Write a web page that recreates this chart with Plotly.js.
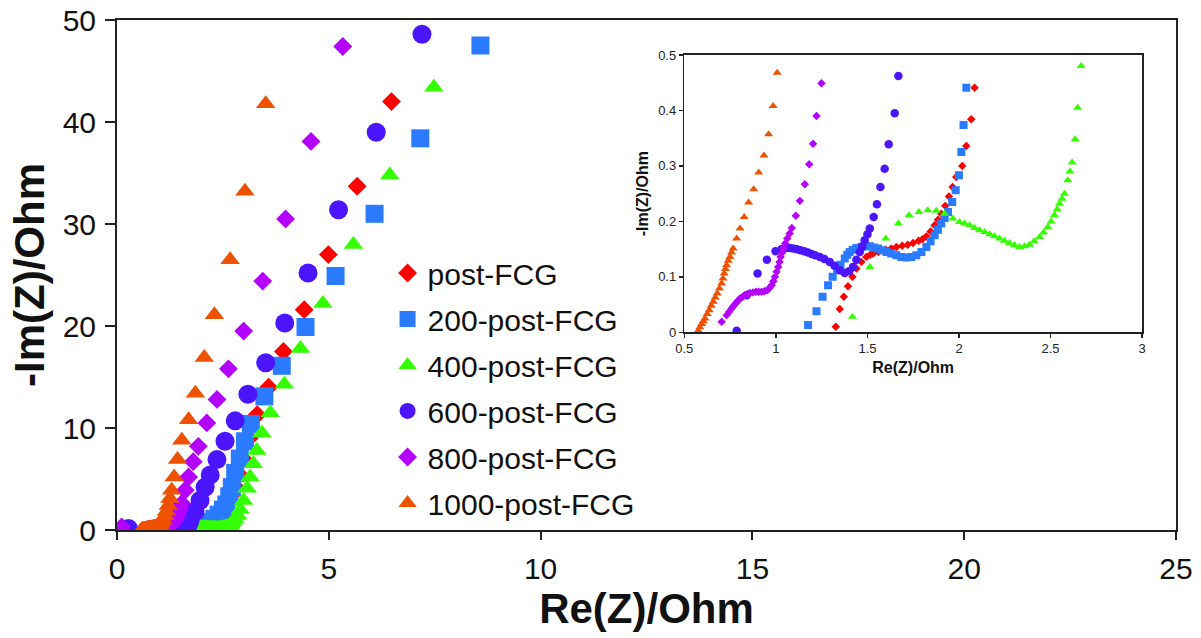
<!DOCTYPE html>
<html>
<head>
<meta charset="utf-8">
<script src="https://cdn.plot.ly/plotly-3.0.1.min.js"></script>
<style>html,body{margin:0;padding:0;background:#fff;}#chart{width:1201px;height:638px;}</style>
</head>
<body>
<div id="chart"></div>
<script>
const seriesNames = ['post-FCG','200-post-FCG','400-post-FCG','600-post-FCG','800-post-FCG','1000-post-FCG'];

const postFCG_x = [1.327,1.349,1.371,1.394,1.418,1.44,1.467,1.494,1.515,1.531,1.56,1.6,1.63,1.658,1.69,1.72,1.749,1.78,1.80,1.822,1.845,1.867,1.885,1.903,1.925,1.945,1.965,1.985,2.018,2.040,2.067,2.085,2.16,2.24,2.33,2.43,2.53,2.62,2.70,2.78,2.87,2.97,3.12,3.31,3.58,3.93,4.42,4.99,5.67,6.48];
const postFCG_y = [0.010,0.042,0.064,0.083,0.100,0.115,0.127,0.136,0.140,0.142,0.145,0.149,0.151,0.154,0.156,0.158,0.161,0.165,0.168,0.173,0.182,0.193,0.203,0.214,0.228,0.245,0.262,0.280,0.300,0.336,0.384,0.441,0.6,0.8,1.1,1.5,2.0,2.6,3.4,4.3,5.5,7.0,9.0,11.3,14.0,17.5,21.6,27.0,33.7,42.0];

const s200_x = [1.176,1.222,1.255,1.285,1.31,1.335,1.353,1.376,1.39,1.403,1.42,1.44,1.467,1.49,1.513,1.535,1.558,1.58,1.604,1.63,1.658,1.685,1.713,1.74,1.767,1.795,1.822,1.845,1.867,1.885,1.903,1.922,1.940,1.963,1.982,2.0,2.013,2.025,2.04,2.12,2.2,2.3,2.4,2.5,2.58,2.65,2.71,2.79,2.9,3.02,3.16,3.48,3.89,4.45,5.16,6.08,7.16,8.58];
const s200_y = [0.013,0.038,0.064,0.085,0.100,0.112,0.122,0.133,0.140,0.145,0.149,0.152,0.154,0.155,0.155,0.153,0.151,0.148,0.145,0.142,0.139,0.136,0.135,0.136,0.139,0.145,0.154,0.164,0.175,0.185,0.196,0.206,0.217,0.235,0.256,0.283,0.325,0.374,0.441,0.6,0.8,1.1,1.5,2.0,2.5,3.3,4.2,5.6,7.0,8.7,10.4,13.1,16.1,19.9,24.9,31.0,38.4,47.5];

const s400_x = [1.418,1.513,1.6,1.669,1.727,1.781,1.830,1.876,1.921,1.967,2.003,2.03,2.058,2.085,2.112,2.14,2.167,2.194,2.221,2.248,2.276,2.303,2.331,2.358,2.385,2.41,2.44,2.462,2.485,2.503,2.521,2.536,2.549,2.563,2.576,2.594,2.606,2.618,2.634,2.648,2.667,2.70,2.74,2.79,2.85,2.91,2.99,3.07,3.14,3.22,3.30,3.42,3.62,3.95,4.33,4.86,5.58,6.44,7.48];
const s400_y = [0.028,0.118,0.169,0.196,0.211,0.217,0.220,0.219,0.214,0.205,0.199,0.196,0.193,0.188,0.184,0.181,0.177,0.173,0.169,0.165,0.161,0.157,0.154,0.155,0.158,0.164,0.172,0.180,0.190,0.200,0.211,0.222,0.232,0.241,0.250,0.274,0.290,0.306,0.348,0.405,0.480,0.6,0.8,1.05,1.45,2.0,2.9,4.1,5.2,6.5,7.8,9.5,11.5,14.3,17.8,22.2,28.0,34.8,43.4];

const s600_x = [0.27,0.786,0.84,0.90,0.951,0.998,1.03,1.055,1.076,1.095,1.115,1.135,1.155,1.175,1.195,1.215,1.24,1.265,1.294,1.32,1.349,1.376,1.40,1.421,1.44,1.458,1.472,1.485,1.50,1.513,1.534,1.552,1.571,1.594,1.616,1.649,1.669,1.69,1.71,1.73,1.84,1.96,2.08,2.20,2.36,2.55,2.79,3.09,3.51,3.96,4.51,5.23,6.12,7.20];
const s600_y = [0.15,0.003,0.067,0.106,0.131,0.146,0.150,0.152,0.152,0.151,0.150,0.148,0.146,0.144,0.141,0.139,0.136,0.132,0.127,0.120,0.112,0.107,0.110,0.118,0.131,0.145,0.155,0.166,0.177,0.187,0.208,0.231,0.262,0.295,0.339,0.395,0.462,0.6,0.78,1.0,1.8,2.9,4.2,5.4,6.9,8.7,10.7,13.3,16.4,20.3,25.2,31.4,39.0,48.6];

const s800_x = [0.11,0.704,0.731,0.745,0.758,0.77,0.782,0.793,0.804,0.818,0.831,0.845,0.858,0.875,0.891,0.906,0.922,0.938,0.953,0.965,0.977,0.986,0.995,1.004,1.013,1.02,1.026,1.033,1.040,1.051,1.062,1.075,1.087,1.109,1.131,1.158,1.182,1.203,1.222,1.249,1.28,1.31,1.35,1.39,1.44,1.48,1.53,1.61,1.69,1.80,1.92,2.12,2.36,2.63,2.99,3.44,3.98,4.58,5.33];
const s800_y = [0.3,0.019,0.031,0.037,0.043,0.048,0.053,0.057,0.061,0.064,0.067,0.069,0.071,0.072,0.073,0.073,0.073,0.074,0.076,0.080,0.085,0.092,0.100,0.109,0.118,0.127,0.136,0.143,0.151,0.160,0.169,0.178,0.188,0.210,0.237,0.267,0.303,0.340,0.390,0.449,0.56,0.7,0.9,1.2,1.55,2.0,2.6,3.9,5.2,6.7,8.2,10.5,12.8,15.8,19.5,24.4,30.5,38.1,47.4];

const s1000_x = [0.576,0.585,0.595,0.604,0.613,0.625,0.636,0.647,0.658,0.669,0.68,0.692,0.704,0.711,0.718,0.725,0.731,0.74,0.749,0.758,0.767,0.786,0.804,0.827,0.851,0.879,0.906,0.935,0.96,0.985,1.007,1.03,1.06,1.09,1.13,1.17,1.21,1.25,1.29,1.35,1.43,1.53,1.69,1.85,2.06,2.30,2.67,3.02,3.51];
const s1000_y = [0.003,0.009,0.015,0.020,0.025,0.033,0.040,0.048,0.055,0.063,0.070,0.079,0.088,0.097,0.106,0.114,0.121,0.129,0.136,0.144,0.151,0.169,0.187,0.208,0.234,0.258,0.288,0.319,0.357,0.408,0.468,0.6,0.8,1.05,1.4,1.85,2.4,3.1,3.9,5.2,6.9,8.8,10.8,13.4,16.9,21.1,26.5,33.2,41.8];

const mainXTicks = [0,5,10,15,20,25];
const mainXTickText = ['0','5','10','15','20','25'];
const mainYTicks = [0,10,20,30,40,50];
const mainYTickText = ['0','10','20','30','40','50'];
const insetXTicks = [0.5,1,1.5,2,2.5,3];
const insetXTickText = ['0.5','1','1.5','2','2.5','3'];
const insetYTicks = [0,0.1,0.2,0.3,0.4,0.5];
const insetYTickText = ['0','0.1','0.2','0.3','0.4','0.5'];

const xTitle = 'Re(Z)/Ohm';
const yTitle = '-Im(Z)/Ohm';

const colors = ['#ff0000','#2a7bff','#33ff00','#4b16ff','#b400ff','#ee5200'];
const symbols = ['diamond','square','triangle-up','circle','diamond','triangle-up'];
const mainSizes = [14.5,18,17,19,14.5,17];
const insetSizes = [6.5,8,8,8.5,6.5,8];

const xs = [postFCG_x,s200_x,s400_x,s600_x,s800_x,s1000_x];
const ys = [postFCG_y,s200_y,s400_y,s600_y,s800_y,s1000_y];

const traces = [];
for (let i = 0; i < seriesNames.length; i++) {
  traces.push({
    type:'scatter', mode:'markers', name: seriesNames[i], legendgroup: 'g'+i,
    x: xs[i], y: ys[i], xaxis:'x', yaxis:'y',
    marker:{symbol:symbols[i], color:colors[i], size:mainSizes[i], line:{width:0}},
    cliponaxis:true
  });
}
for (let i = 0; i < seriesNames.length; i++) {
  traces.push({
    type:'scatter', mode:'markers', name: seriesNames[i], legendgroup: 'g'+i, showlegend:false,
    x: xs[i], y: ys[i], xaxis:'x2', yaxis:'y2',
    marker:{symbol:symbols[i], color:colors[i], size:insetSizes[i], line:{width:0}},
    cliponaxis:true
  });
}

const font = 'Liberation Sans, Arial, Helvetica, sans-serif';

const layout = {
  width:1201, height:638,
  margin:{l:117, r:25, t:20, b:108},
  paper_bgcolor:'#fff', plot_bgcolor:'rgba(0,0,0,0)',
  showlegend:true,
  legend:{x:0.2555, y:0.555, xanchor:'left', yanchor:'top', bgcolor:'rgba(0,0,0,0)', borderwidth:0,
          font:{family:font, size:30, color:'#111'}, tracegroupgap:4, itemsizing:'trace'},
  xaxis:{domain:[0,1], range:[0,25], tickvals:mainXTicks, ticktext:mainXTickText,
         showline:true, linecolor:'#222', linewidth:2, mirror:true, ticks:'outside', ticklen:8, tickwidth:2, tickcolor:'#222',
         showgrid:false, zeroline:false, tickfont:{family:font, size:30, color:'#111'}, ticklabelstandoff:3,
         title:{text:xTitle, font:{family:font, size:42, color:'#111', weight:'bold'}, standoff:6}},
  yaxis:{domain:[0,1], range:[0,50], tickvals:mainYTicks, ticktext:mainYTickText,
         showline:true, linecolor:'#222', linewidth:2, mirror:true, ticks:'outside', ticklen:10, tickwidth:2, tickcolor:'#222',
         showgrid:false, zeroline:false, tickfont:{family:font, size:30, color:'#111'}, ticklabelstandoff:3,
         title:{text:yTitle, font:{family:font, size:42, color:'#111', weight:'bold'}, standoff:5}},
  xaxis2:{domain:[0.5357,0.968], anchor:'y2', range:[0.5,3], tickvals:insetXTicks, ticktext:insetXTickText,
         showline:true, linecolor:'#222', linewidth:1.5, mirror:true, ticks:'outside', ticklen:4, tickwidth:1.5, tickcolor:'#222',
         showgrid:false, zeroline:false, tickfont:{family:font, size:13, color:'#222'},
         title:{text:xTitle, font:{family:font, size:16, color:'#111', weight:'bold'}, standoff:6}},
  yaxis2:{domain:[0.3876,0.9314], anchor:'x2', range:[0,0.5], tickvals:insetYTicks, ticktext:insetYTickText,
         showline:true, linecolor:'#222', linewidth:1.5, mirror:true, ticks:'outside', ticklen:4, tickwidth:1.5, tickcolor:'#222',
         showgrid:false, zeroline:false, tickfont:{family:font, size:13, color:'#222'},
         title:{text:yTitle, font:{family:font, size:16, color:'#111', weight:'bold'}, standoff:5}}
};

Plotly.newPlot('chart', traces, layout, {displayModeBar:false, staticPlot:true});
</script>
</body>
</html>
